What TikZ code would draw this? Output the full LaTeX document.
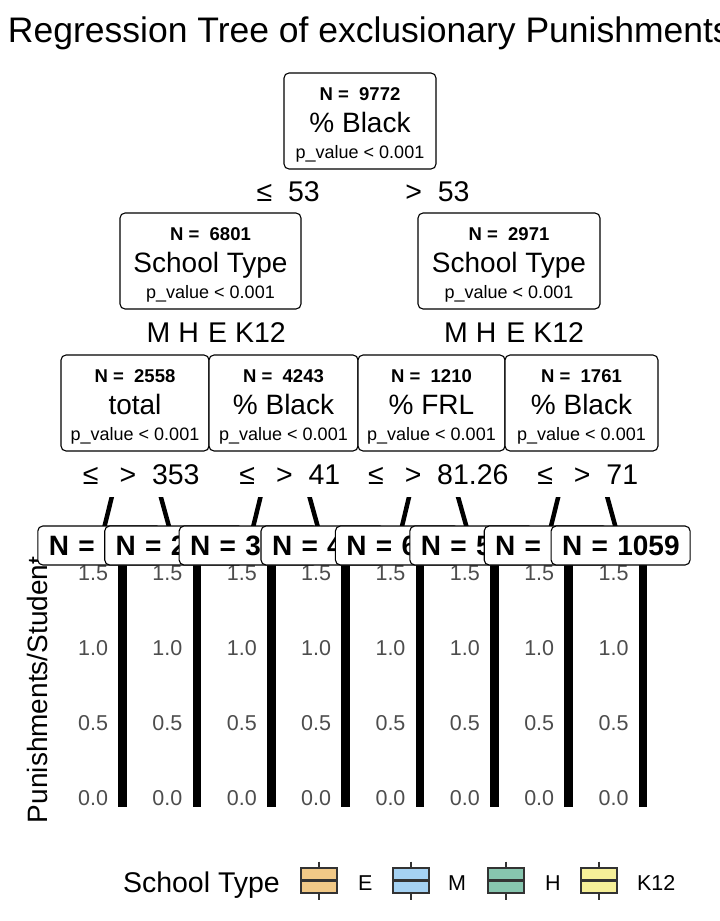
\documentclass[tikz,border=0pt]{standalone}
\usepackage{fontspec}
\setmainfont{Liberation Sans}
\usetikzlibrary{calc}
\definecolor{tickgray}{HTML}{4D4D4D}
\definecolor{keyE}{HTML}{F1C987}
\definecolor{keyM}{HTML}{A5D2F3}
\definecolor{keyH}{HTML}{87C6AF}
\definecolor{keyK}{HTML}{F6F099}
\definecolor{keyclr}{HTML}{333333}
\newcommand{\fsz}[1]{\fontsize{#1}{#1}\selectfont}
\newcommand{\SplitNode}[6]{%
  \node[splitbox, minimum width=#4pt] (#1) at (#2,#3) {};
  \node[ntext] (#1-n) at ($(#1.north)+(0,27)$) {N =\ \ #5};
  \node[vtext] (#1-v) at ($(#1.north)+(0,59)$) {#6};
  \node[ptext] (#1-p) at ($(#1.north)+(0,85)$) {p\_value < 0.001};
}
\newcommand{\EdgeLab}[5]{%
  \node[elabel] (#1) at ($(#2.center)!0.5!(#3.center)+(#4,0)$) {#5};
}
\pgfdeclarelayer{bglayer}
\pgfdeclarelayer{edgelayer}
\pgfdeclarelayer{labellayer}
\pgfsetlayers{bglayer,edgelayer,labellayer,main}
\begin{document}
\begin{tikzpicture}[x=1pt,y=-1pt,
  every node/.style={inner sep=0pt, outer sep=0pt},
  splitbox/.style={draw=black, line width=1.1pt, rounded corners=5pt, fill=white, anchor=north west, minimum height=96pt},
  ntext/.style={anchor=base, font=\bfseries\fsz{18.5}},
  vtext/.style={anchor=base, font=\fsz{28}},
  ptext/.style={anchor=base, font=\fsz{18}},
  edgeline/.style={line width=4.5pt, draw=black},
  elabel/.style={fill=white, inner xsep=6pt, minimum height=46pt, text height=21pt, text depth=0pt, font=\fsz{28.5}},
  leafbox/.style={draw=black, line width=1.1pt, rounded corners=5pt, fill=white, minimum height=39pt, inner xsep=11pt, text height=20pt, text depth=0pt, align=left, font=\bfseries\fsz{28}},
  ticklab/.style={anchor=base east, text=tickgray, font=\fsz{21.5}},
  keybox/.style={draw=keyclr, line width=2.8pt, minimum width=36pt, minimum height=25pt},
  keystroke/.style={draw=keyclr, line width=2.8pt},
  legtext/.style={anchor=base west, font=\fsz{21.5}}
]
\useasboundingbox (0,0) rectangle (720,921);
\begin{pgfonlayer}{bglayer}
\fill[white] (0,0) rectangle (720,921);
\end{pgfonlayer}

% title
\node[anchor=base west, font=\fsz{35.5}] (title) at (8,42) {Regression Tree of exclusionary Punishments};

% split nodes
\SplitNode{root}{284}{73}{152}{9772}{\% Black}
\SplitNode{l2a}{120}{213}{181}{6801}{School Type}
\SplitNode{l2b}{418}{213}{182}{2971}{School Type}
\SplitNode{l3a}{61}{355}{148}{2558}{total}
\SplitNode{l3b}{209}{355}{149}{4243}{\% Black}
\SplitNode{l3c}{358}{355}{147}{1210}{\% FRL}
\SplitNode{l3d}{505}{355}{153}{1761}{\% Black}

% panel bars and axis labels
\foreach \i in {0,...,7}{
  \fill[black] ({118.3+74.36*\i},560) rectangle ({126.8+74.36*\i},807);
  \foreach \v/\y/\k in {1.5/580/a, 1.0/655/b, 0.5/730/c, 0.0/805/d}{
    \node[ticklab] (tick\i\k) at ({108+74.36*\i},\y) {\v};
  }
}
\node[anchor=base west, rotate=90, font=\fsz{28}] (ytitle) at (47,823) {Punishments/Student};

% leaf labels
\node[leafbox, text width=102pt] (leaf1) at (99.8,545.5) {\mbox{N =}};
\node[leafbox, text width=117pt] (leaf2) at (174.2,545.5) {\mbox{N = 2}};
\node[leafbox, text width=117pt] (leaf3) at (248.6,545.5) {\mbox{N = 3}};
\node[leafbox, text width=102pt] (leaf4) at (323.0,545.5) {\mbox{N = 4}};
\node[leafbox, text width=102pt] (leaf5) at (397.4,545.5) {\mbox{N = 6}};
\node[leafbox, text width=102pt] (leaf6) at (471.8,545.5) {\mbox{N = 5}};
\node[leafbox, text width=102pt] (leaf7) at (546.2,545.5) {\mbox{N =}};
\node[leafbox, text width=117pt] (leaf8) at (620.6,545.5) {\mbox{N = 1059}};

% edge labels
\begin{pgfonlayer}{labellayer}
\EdgeLab{e1}{root}{l2a}{3}{≤\ \ 53}
\EdgeLab{e2}{root}{l2b}{3}{>\ \ 53}
\EdgeLab{e3}{l2a}{l3a}{0}{M H}
\EdgeLab{e4}{l2a}{l3b}{0}{E K12}
\EdgeLab{e5}{l2b}{l3c}{0}{M H}
\EdgeLab{e6}{l2b}{l3d}{0}{E K12}
\EdgeLab{e7}{l3a}{leaf1}{5}{≤\ \ 353}
\EdgeLab{e8}{l3a}{leaf2}{5}{>\ \ 353}
\EdgeLab{e9}{l3b}{leaf3}{5}{≤\ \ 41}
\EdgeLab{e10}{l3b}{leaf4}{5}{>\ \ 41}
\EdgeLab{e11}{l3c}{leaf5}{5}{≤\ \ 81.26}
\EdgeLab{e12}{l3c}{leaf6}{5}{>\ \ 81.26}
\EdgeLab{e13}{l3d}{leaf7}{5}{≤\ \ 71}
\EdgeLab{e14}{l3d}{leaf8}{5}{>\ \ 71}
\end{pgfonlayer}

% edges
\begin{pgfonlayer}{edgelayer}
\draw[edgeline] (root.center) -- (l2a.center);
\draw[edgeline] (root.center) -- (l2b.center);
\draw[edgeline] (l2a.center) -- (l3a.center);
\draw[edgeline] (l2a.center) -- (l3b.center);
\draw[edgeline] (l2b.center) -- (l3c.center);
\draw[edgeline] (l2b.center) -- (l3d.center);
\draw[edgeline] (l3a.center) -- (leaf1.center);
\draw[edgeline] (l3a.center) -- (leaf2.center);
\draw[edgeline] (l3b.center) -- (leaf3.center);
\draw[edgeline] (l3b.center) -- (leaf4.center);
\draw[edgeline] (l3c.center) -- (leaf5.center);
\draw[edgeline] (l3c.center) -- (leaf6.center);
\draw[edgeline] (l3d.center) -- (leaf7.center);
\draw[edgeline] (l3d.center) -- (leaf8.center);
\end{pgfonlayer}

% legend
\node[anchor=base west, font=\fsz{28.5}] (legtitle) at (123,892) {School Type};
\foreach \c/\x/\lab/\lx/\nm in {keyE/319/E/358/kE, keyM/411/M/448/kM, keyH/506/H/545/kH, keyK/599/K12/637/kK}{
  \draw[keystroke] (\x,861.5) -- (\x,900);
  \node[keybox, fill=\c] (\nm) at (\x,880.5) {};
  \draw[keystroke] (\nm.west) -- (\nm.east);
  \node[legtext] (\nm-lab) at (\lx,890) {\lab};
}
\end{tikzpicture}
\end{document}
